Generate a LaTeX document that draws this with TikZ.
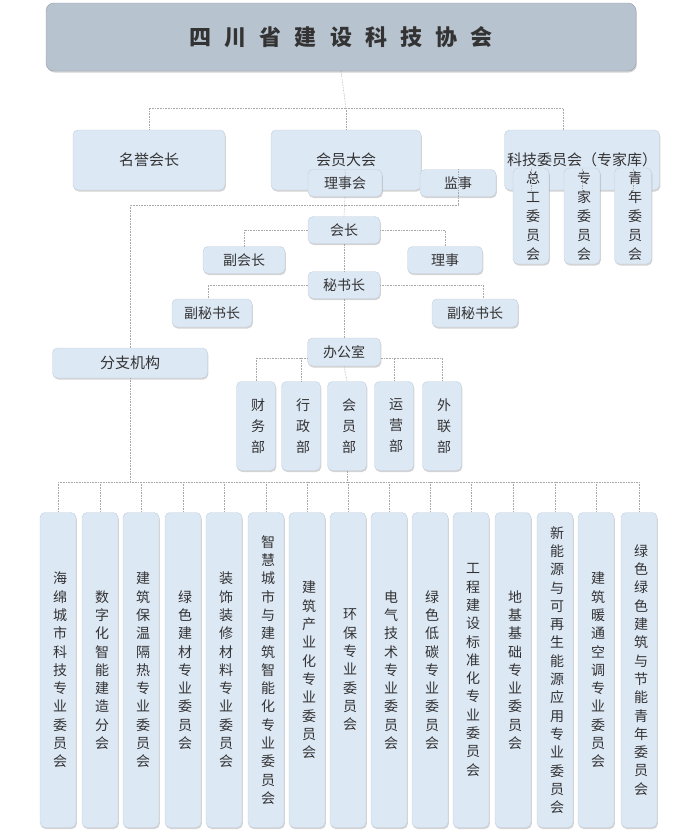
\documentclass[tikz,border=0pt]{standalone}
\usepackage{fontspec}
\setmainfont{Noto Sans CJK SC}
\XeTeXlinebreaklocale "zh"
\XeTeXlinebreakskip=0pt plus 1pt
\usetikzlibrary{shadows}
\definecolor{boxfill}{HTML}{DDE8F5}
\definecolor{boxline}{HTML}{C3CFDD}
\definecolor{titlefill}{HTML}{B8C3D0}
\definecolor{txt}{HTML}{333333}
\definecolor{ln}{HTML}{A8A8A8}
\tikzset{
  box/.style={draw=boxline, fill=boxfill, rounded corners=5pt, text=txt, inner sep=0pt,
    drop shadow={shadow xshift=0.8pt, shadow yshift=-1.5pt, opacity=0.35}},
  hbox/.style={box, font=\fontsize{15}{18}\selectfont},
  sbox/.style={box, font=\fontsize{14}{18}\selectfont},
  vbox/.style={box, font=\fontsize{14}{#1}\selectfont, text width=1em, align=center},
  vbox/.default=19,
  conn/.style={draw=ln, densely dotted, line width=0.6pt},
}
\newcommand{\B}[7]{\node[#1, minimum width=#5pt, minimum height=#6pt] (#2) at (#3,#4) {#7};}
\begin{document}
\begin{tikzpicture}[x=1pt,y=-1pt]
\useasboundingbox (0,0) rectangle (700,833);
\node[box, fill=titlefill, draw=titlefill!80!black, rounded corners=8pt, minimum width=590pt, minimum height=68pt,
  font=\fontsize{22}{26}\selectfont\bfseries] (title) at (341,37) {四\hspace{0.6em}川\hspace{0.6em}省\hspace{0.6em}建\hspace{0.6em}设\hspace{0.6em}科\hspace{0.6em}技\hspace{0.6em}协\hspace{0.6em}会};
\B{hbox}{myhz}{149}{160}{152}{60}{名誉会长}
\B{hbox}{hydh}{346}{160}{150}{60}{会员大会}
\B{hbox}{kjwy}{582}{160}{155}{60}{科技委员会（专家库）}
\B{vbox}{zg}{531}{216}{36}{96}{总工委员会}
\B{vbox}{zj}{582}{216}{36}{96}{专家委员会}
\B{vbox}{qn}{633}{216}{37}{96}{青年委员会}
\B{sbox}{lsh}{345}{183}{74}{27}{理事会}
\B{sbox}{js}{458}{183}{76}{27}{监事}
\B{sbox}{hz}{344}{230}{72}{27}{会长}
\B{sbox}{fhz}{244}{260}{82}{27}{副会长}
\B{sbox}{ls}{445}{260}{75}{27}{理事}
\B{sbox}{msz}{344}{285}{72}{27}{秘书长}
\B{sbox}{fms1}{212}{313}{80}{28}{副秘书长}
\B{sbox}{fms2}{475}{313}{86}{28}{副秘书长}
\B{hbox}{fzjg}{130}{363}{155}{30}{分支机构}
\B{sbox}{bgs}{344}{352}{73}{28}{办公室}
\foreach \n/\x/\t in {cw/256/财务部, xz/301/行政部, hy/347/会员部, yy/394/运营部, wl/442/外联部}
  \B{vbox=21}{\n}{\x}{426}{39}{89}{\t};
\foreach \n/\x/\t in {
 c1/58/海绵城市科技专业委员会, c2/100/数字化智能建造分会, c3/141/建筑保温隔热专业委员会,
 c4/183/绿色建材专业委员会, c5/224/装饰装修材料专业委员会, c6/266/智慧城市与建筑智能化专业委员会,
 c7/307/建筑产业化专业委员会, c8/348/环保专业委员会, c9/389/电气技术专业委员会,
 c10/430/绿色低碳专业委员会, c11/471/工程建设标准化专业委员会, c12/513/地基基础专业委员会,
 c13/555/新能源与可再生能源应用专业委员会, c14/596/建筑暖通空调专业委员会, c15/639/绿色绿色建筑与节能青年委员会}
  \B{vbox=18.3}{\n}{\x}{670}{36}{315}{\t};
% connectors
\coordinate (j1) at (346,108);
\draw[conn] (title.south) -- (j1);
\draw[conn] (j1) -| (myhz.north);
\draw[conn] (j1) -- (hydh.north);
\draw[conn] (j1) -| ([xshift=-19pt]kjwy.north);
\draw[conn] (zg.north |- kjwy.south) -- (zg.north);
\draw[conn] (zj.north |- kjwy.south) -- (zj.north);
\draw[conn] (qn.north |- kjwy.south) -- (qn.north);
\coordinate (j2) at (346,205);
\draw[conn] (hydh.south) -- (lsh.north);
\draw[conn] (j2) -| (js.north);
\draw[conn] (j2) -| (fzjg.north);
\draw[conn] (lsh.south) -- (hz.north);
\draw[conn] (hz.west) -| (fhz.north);
\draw[conn] (hz.east) -| (ls.north);
\draw[conn] (hz.south) -- (msz.north);
\draw[conn] (msz.west) -| ([xshift=-4pt]fms1.north);
\draw[conn] (msz.east) -| ([xshift=8pt]fms2.north);
\draw[conn] (msz.south) -- (bgs.north);
\coordinate (j3) at (344,358);
\draw[conn] (bgs.west |- j3) -| (cw.north);
\draw[conn] (bgs.west |- j3) -| (xz.north);
\draw[conn] (bgs.east |- j3) -| (yy.north);
\draw[conn] (bgs.east |- j3) -| (wl.north);
\draw[conn] (bgs.south) -- (hy.north);
\coordinate (j4) at (347,482);
\draw[conn] (hy.south) -- (j4);
\draw[conn] (fzjg.south) -- (fzjg.south |- j4);
\draw[conn] (c1.north |- j4) -- (c15.north |- j4);
\foreach \n in {c1,c2,c3,c4,c5,c6,c7,c8,c9,c10,c11,c12,c13,c14,c15}
  \draw[conn] (\n.north |- j4) -- (\n.north);
\end{tikzpicture}
\end{document}
